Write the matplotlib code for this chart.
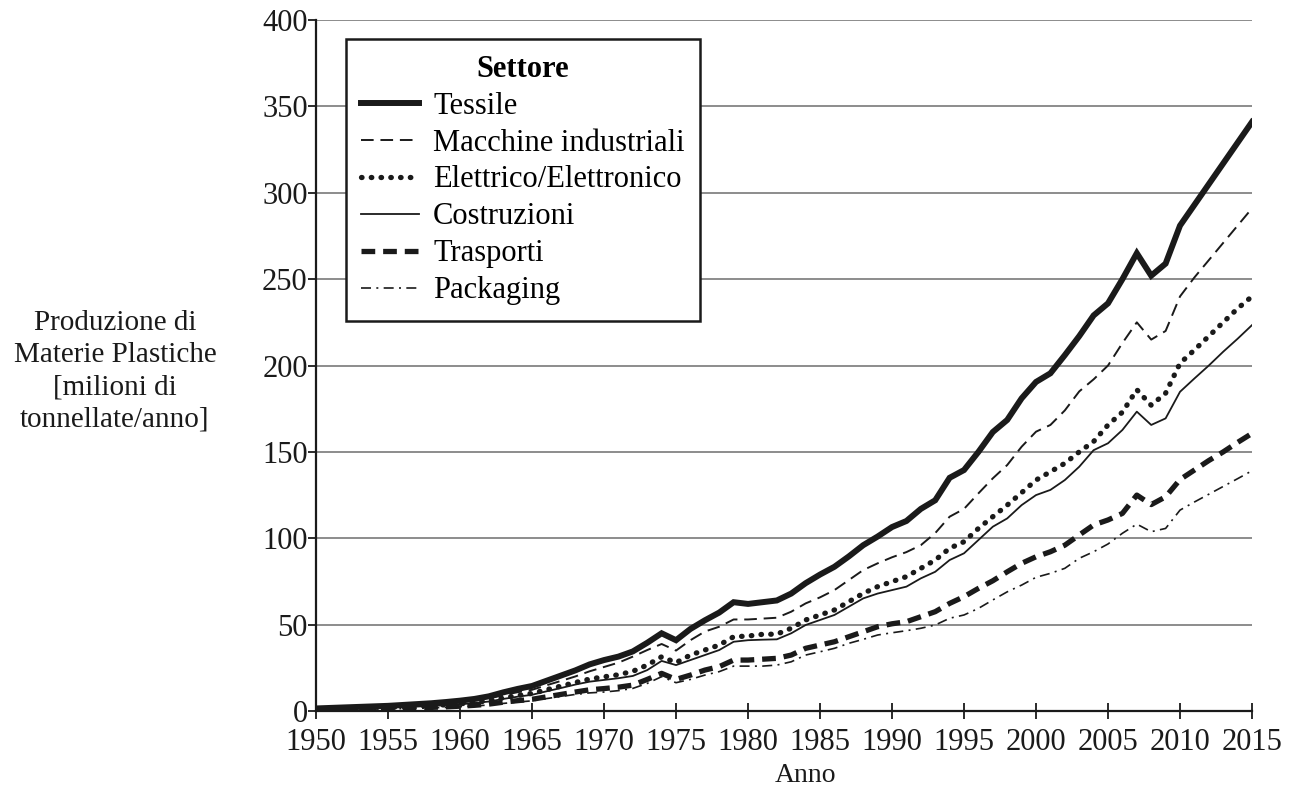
import numpy as np
import matplotlib
matplotlib.use("Agg")
import matplotlib.pyplot as plt

plt.rcParams['font.family'] = ['Liberation Serif', 'DejaVu Serif']

years = np.arange(1950, 2016)

tessile = [1.5, 1.8, 2.1, 2.4, 2.7, 3.0, 3.5, 4.0, 4.5, 5.2,
           6.0, 7.0, 8.5, 10.8, 12.8, 14.5, 17.5, 20.5, 23.5, 27.0,
           29.5, 31.5, 34.5, 39.5, 45.0, 41.0, 47.5, 52.5, 57.0, 63.0,
           62.0, 63.0, 64.0, 68.0, 74.0, 79.0, 83.5, 89.5, 96.0, 101.0,
           106.5, 110.0, 117.0, 122.0, 135.0, 139.5, 150.0, 161.5, 168.5, 181.0,
           190.5, 195.5, 206.0, 217.0, 229.0, 236.0, 250.0, 265.0, 252.0, 259.0,
           281.0, 293.0, 305.0, 317.0, 329.0, 341.0]

macchine = [1.3, 1.5, 1.8, 2.0, 2.3, 2.6, 3.0, 3.4, 3.8, 4.4,
            5.1, 6.0, 7.2, 9.2, 10.9, 12.3, 14.9, 17.4, 20.0, 23.0,
            25.5, 28.0, 31.5, 35.3, 38.8, 35.0, 41.0, 46.0, 48.8, 53.0,
            53.0, 53.5, 54.0, 57.5, 62.3, 65.8, 70.0, 75.8, 81.6, 85.5,
            89.0, 92.0, 96.0, 103.0, 112.5, 117.0, 126.0, 134.7, 142.4, 153.0,
            161.7, 165.6, 174.0, 185.0, 192.0, 200.0, 213.0, 225.0, 215.0, 220.0,
            240.0, 251.0, 261.0, 271.0, 281.0, 291.0]

elettrico = [1.0, 1.3, 1.5, 1.7, 1.9, 2.1, 2.4, 2.8, 3.2, 3.6,
             4.2, 4.9, 6.0, 7.6, 9.0, 10.2, 12.3, 14.4, 16.5, 18.5,
             19.8, 21.0, 23.0, 26.6, 31.4, 28.0, 32.4, 35.3, 38.2, 43.0,
             43.4, 44.4, 44.5, 47.9, 52.7, 55.6, 58.5, 63.3, 68.1, 72.0,
             74.9, 77.8, 82.6, 87.4, 94.2, 98.0, 105.7, 112.5, 119.2, 126.4,
             133.7, 138.5, 143.4, 150.0, 156.0, 165.6, 173.0, 186.0, 177.0, 184.0,
             201.3, 209.0, 217.0, 225.0, 233.0, 240.0]

costruzioni = [1.0, 1.2, 1.4, 1.6, 1.8, 2.0, 2.3, 2.6, 2.9, 3.4,
               3.9, 4.6, 5.5, 7.0, 8.3, 9.4, 11.4, 13.3, 15.3, 17.0,
               18.0, 19.0, 20.3, 23.7, 29.0, 26.6, 29.5, 32.4, 35.3, 40.1,
               41.0, 41.3, 41.5, 45.0, 49.8, 52.7, 55.6, 60.4, 65.2, 68.0,
               70.0, 72.0, 76.8, 80.6, 87.4, 91.3, 99.0, 106.7, 111.5, 119.2,
               125.0, 128.0, 133.7, 141.4, 151.0, 155.0, 162.7, 173.3, 165.6, 169.4,
               184.8, 192.5, 200.0, 208.0, 215.5, 223.4]

trasporti = [0.7, 0.8, 1.0, 1.1, 1.3, 1.4, 1.6, 1.9, 2.1, 2.4,
             2.8, 3.3, 4.0, 5.1, 6.0, 6.8, 8.2, 9.6, 11.0, 12.3,
             13.0, 13.8, 15.0, 18.3, 21.8, 18.3, 20.8, 23.7, 25.7, 29.5,
             29.5, 30.0, 30.5, 32.4, 36.3, 38.2, 40.1, 43.0, 45.9, 48.8,
             50.5, 51.7, 54.6, 57.5, 62.3, 66.2, 71.0, 75.4, 80.6, 85.5,
             89.3, 92.2, 96.0, 101.9, 107.7, 110.6, 114.4, 125.0, 119.5, 124.0,
             134.0, 139.5, 145.0, 150.0, 155.5, 160.7]

packaging = [0.6, 0.7, 0.9, 1.0, 1.1, 1.2, 1.4, 1.6, 1.8, 2.1,
             2.5, 2.9, 3.5, 4.4, 5.2, 5.9, 7.2, 8.4, 9.6, 10.5,
             11.0, 11.8, 13.1, 16.0, 19.9, 16.4, 18.3, 20.8, 22.8, 26.0,
             26.0, 26.0, 26.6, 28.5, 32.4, 34.3, 36.3, 39.2, 41.5, 44.0,
             45.3, 46.5, 47.9, 49.8, 53.7, 55.6, 59.4, 64.3, 69.0, 72.9,
             77.4, 79.7, 82.6, 88.4, 92.2, 96.7, 102.9, 108.2, 103.8, 105.7,
             116.3, 121.0, 125.5, 130.0, 134.5, 139.1]

fig = plt.figure(figsize=(12.91, 7.91), dpi=100)
ax = fig.add_axes([0.2448, 0.1011, 0.7250, 0.8736])

ink = '#1a1a1a'
ax.plot(years, tessile, color=ink, lw=4.3, solid_joinstyle='miter', label='Tessile')
ax.plot(years, macchine, color=ink, lw=1.4, linestyle=(0, (6.5, 3.5)), label='Macchine industriali')
ax.plot(years, elettrico, color=ink, lw=3.8, linestyle=(0, (0.1, 1.75)),
        dash_capstyle='round', label='Elettrico/Elettronico')
ax.plot(years, costruzioni, color=ink, lw=1.3, label='Costruzioni')
ax.plot(years, trasporti, color=ink, lw=3.8, linestyle=(0, (2.6, 1.5)), label='Trasporti')
ax.plot(years, packaging, color=ink, lw=1.2, linestyle=(0, (6.0, 3.2, 1.2, 3.2)), label='Packaging')

ax.set_xlim(1950, 2015)
ax.set_ylim(0, 400)
ax.set_xticks(np.arange(1950, 2016, 5))
ax.set_yticks(np.arange(0, 401, 50))
ax.yaxis.grid(True, color='#6e6e6e', lw=1.1)
ax.set_axisbelow(True)

for s in ['top', 'right']:
    ax.spines[s].set_visible(False)
for s in ['left', 'bottom']:
    ax.spines[s].set_linewidth(1.6)
    ax.spines[s].set_color(ink)

ax.tick_params(axis='x', direction='inout', length=12, width=1.3, labelsize=22, pad=6, colors=ink)
ax.tick_params(axis='y', direction='out', length=6, width=1.3, labelsize=22, pad=0, colors=ink)

ax.set_xlabel('Anno', fontsize=20, color=ink)
ax.xaxis.set_label_coords((805 - 316) / 936, -0.075)

fig.text(115 / 1291, 1 - 371 / 791,
         'Produzione di\nMaterie Plastiche\n[milioni di\ntonnellate/anno]',
         ha='center', va='center', fontsize=21, linespacing=1.3, color=ink)

leg = ax.legend(loc='upper left', bbox_to_anchor=(0.032, 0.972), title='Settore',
                fontsize=22, title_fontproperties={'weight': 'bold', 'size': 22},
                frameon=True, fancybox=False, handlelength=1.9, handletextpad=0.45,
                labelspacing=0.26, borderpad=0.5, borderaxespad=0)
leg.get_frame().set_edgecolor(ink)
leg.get_frame().set_linewidth(1.8)
leg.get_frame().set_alpha(1)

fig.savefig('out.png', dpi=100)
